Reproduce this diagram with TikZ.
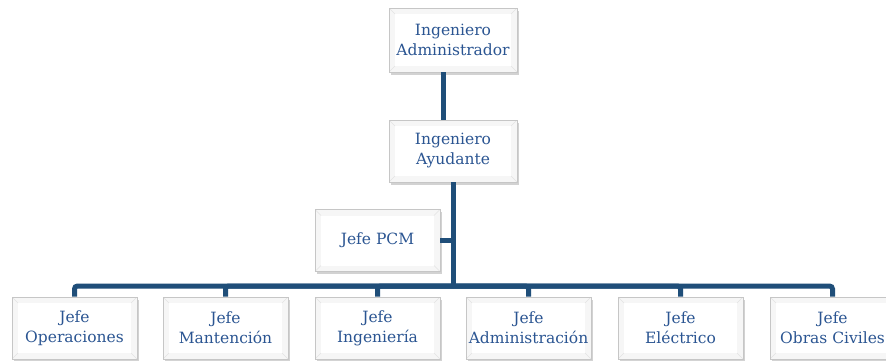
\documentclass[tikz,border=0pt]{standalone}
\usepackage{fontspec}
\setmainfont{DejaVu Serif}
\usetikzlibrary{shadows}
\definecolor{txt}{HTML}{2B5592}
\definecolor{ln}{HTML}{1F4E79}
\tikzset{
 box/.style={minimum width=125pt, minimum height=62pt, fill=white, draw=gray!45, line width=0.8pt,
   drop shadow={shadow xshift=2pt, shadow yshift=-2.5pt, opacity=0.35},
   text=txt, align=center, font=\fontsize{15.5}{20}\selectfont, inner sep=0pt,
   path picture={
     \fill[gray!7] (path picture bounding box.north west) rectangle (path picture bounding box.south east);
     \fill[white] ([shift={(6pt,-6pt)}]path picture bounding box.north west) rectangle ([shift={(-6pt,6pt)}]path picture bounding box.south east);
     \draw[gray!22, line width=0.5pt] (path picture bounding box.north west) -- ([shift={(6pt,-6pt)}]path picture bounding box.north west);
     \draw[gray!22, line width=0.5pt] (path picture bounding box.north east) -- ([shift={(-6pt,-6pt)}]path picture bounding box.north east);
     \draw[gray!22, line width=0.5pt] (path picture bounding box.south west) -- ([shift={(6pt,6pt)}]path picture bounding box.south west);
     \draw[gray!22, line width=0.5pt] (path picture bounding box.south east) -- ([shift={(-6pt,6pt)}]path picture bounding box.south east);
   }},
 conn/.style={ln, line width=5pt, rounded corners=3pt}
}
\begin{document}
\begin{tikzpicture}[x=1pt,y=-1pt]
\useasboundingbox (0,0) rectangle (886,360);
\fill[white] (0,0) rectangle (886,360);
\coordinate (bus) at (453,286);
\node[box, minimum width=128pt, minimum height=64pt] (adm) at (453,40) {Ingeniero\\Administrador};
\node[box, minimum width=128pt] (ayu) at (453,151) {Ingeniero\\Ayudante};
\node[box] (pcm) at (377.5,240.5) {Jefe PCM};
\node[box] (b1) at (74.5,328) {Jefe\\Operaciones};
\node[box] (b2) at (225.5,328) {Jefe\\Mantención};
\node[box] (b3) at (377.5,328) {Jefe\\Ingeniería};
\node[box] (b4) at (528.5,328) {Jefe\\Administración};
\node[box] (b5) at (680.5,328) {Jefe\\Eléctrico};
\node[box] (b6) at (832.5,328) {Jefe\\Obras Civiles};
\draw[conn] ([xshift=-10pt]adm.south) -- ([xshift=-10pt]ayu.north);
\draw[conn] (ayu.south) -- (bus);
\draw[conn] (pcm.east) -- (pcm.east -| bus);
\foreach \b in {b1,b2,b3,b4,b5,b6}{
  \draw[conn] (bus) -| (\b.north);
}
\end{tikzpicture}
\end{document}
